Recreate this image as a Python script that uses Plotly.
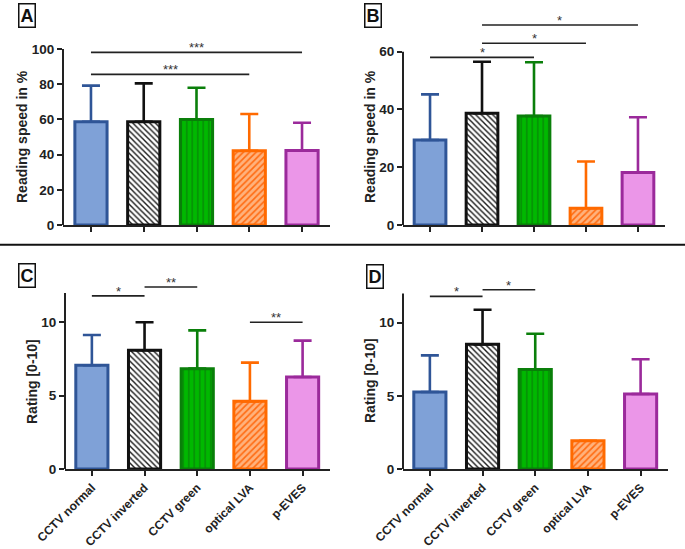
import plotly.graph_objects as go

W, H = 685, 549

categories = ["CCTV normal", "CCTV inverted", "CCTV green", "optical LVA", "p-EVES"]

# Panel A: reading speed (%) – means and SD
speed_a_mean = [58.7, 58.7, 60.0, 42.2, 42.4]
speed_a_sd = [20.5, 21.8, 18.0, 20.9, 15.7]
# Panel B
speed_b_mean = [29.4, 38.7, 37.7, 5.8, 18.2]
speed_b_sd = [15.8, 17.8, 18.6, 16.2, 19.1]
# Panel C: rating
rating_c_mean = [7.07, 8.09, 6.84, 4.61, 6.27]
rating_c_sd = [2.06, 1.91, 2.61, 2.64, 2.48]
# Panel D
rating_d_mean = [5.26, 8.52, 6.81, 1.93, 5.13]
rating_d_sd = [2.51, 2.37, 2.44, 0.0, 2.37]

# significance brackets: (from, to, height, label)
sig_a = [(0, 4, 98.1, "***"), (0, 3, 85.6, "***")]
sig_b = [(0, 2, 58.0, "*"), (1, 3, 62.9, "*"), (1, 4, 69.2, "*")]
sig_c = [(0, 1, 11.8, "*"), (1, 2, 12.4, "**"), (3, 4, 10.0, "**")]
sig_d = [(0, 1, 11.8, "*"), (1, 2, 12.25, "*")]

yticks_a = [0, 20, 40, 60, 80, 100]
yticks_b = [0, 20, 40, 60]
yticks_cd = [0, 5, 10]

styles = [
    dict(fill="#7fa1d7", line="#2f5597", shape="", fg="#7fa1d7", size=8, sol=0.3),
    dict(fill="#ffffff", line="#111111", shape="\\", fg="#1a1a1a", size=4, sol=0.35),
    dict(fill="#00b800", line="#0a7f0a", shape="|", fg="#078a07", size=5.5, sol=0.25),
    dict(fill="#ffb27c", line="#ff6a00", shape="/", fg="#ff6a10", size=4.5, sol=0.35),
    dict(fill="#eb96e8", line="#9b2a9b", shape="", fg="#eb96e8", size=8, sol=0.3),
]

FONT = "Arial, Liberation Sans, sans-serif"

def px2x(p):
    return p / W

def px2y(p):
    return 1 - p / H

panels = [
    dict(name="A", means=speed_a_mean, sds=speed_a_sd, sig=sig_a, yt=yticks_a,
         x0=63, x1=330, yb=225, ytp=8, ymax=123.3, axtop=100, xr=(-0.53, 4.53),
         title="Reading speed in %", tx=22, ty=137, labels=False,
         box=(26.5, 15.5)),
    dict(name="B", means=speed_b_mean, sds=speed_b_sd, sig=sig_b, yt=yticks_b,
         x0=403, x1=665, yb=225, ytp=8, ymax=75.1, axtop=60, xr=(-0.52, 4.52),
         title="Reading speed in %", tx=370, ty=137, labels=False,
         box=(373, 15.5)),
    dict(name="C", means=rating_c_mean, sds=rating_c_sd, sig=sig_c, yt=yticks_cd,
         x0=65, x1=330, yb=469, ytp=268, ymax=13.7, axtop=12, xr=(-0.51, 4.52),
         title="Rating [0-10]", tx=32, ty=381, labels=True,
         box=(27, 275)),
    dict(name="D", means=rating_d_mean, sds=rating_d_sd, sig=sig_d, yt=yticks_cd,
         x0=403, x1=668, yb=469, ytp=268, ymax=13.74, axtop=12, xr=(-0.51, 4.52),
         title="Rating [0-10]", tx=370, ty=381, labels=True,
         box=(375, 276.5)),
]

fig = go.Figure()
shapes = []
annotations = []
layout_axes = {}

for k, p in enumerate(panels):
    idx = "" if k == 0 else str(k + 1)
    xa, ya = "x" + idx, "y" + idx
    for i, cat in enumerate(categories):
        s = styles[i]
        fig.add_trace(go.Bar(
            x=[i], y=[p["means"][i]], width=0.61,
            xaxis=xa, yaxis=ya, showlegend=False, name=cat,
            marker=dict(
                color=s["fill"],
                line=dict(color=s["line"], width=3),
                pattern=dict(shape=s["shape"], bgcolor=s["fill"], fgcolor=s["fg"],
                             size=s["size"], solidity=s["sol"], fillmode="replace"),
            ),
            error_y=dict(type="data", array=[p["sds"][i]], arrayminus=[0],
                         symmetric=False, color=s["line"], thickness=2.6, width=9),
        ))
    layout_axes["xaxis" + idx] = dict(
        domain=[px2x(p["x0"]), px2x(p["x1"])], anchor=ya, range=list(p["xr"]),
        tickmode="array", tickvals=list(range(len(categories))), ticktext=categories,
        showticklabels=p["labels"], tickangle=-45, ticks="outside", ticklen=5,
        tickwidth=2, tickcolor="#222", showline=True, linewidth=2, linecolor="#222",
        showgrid=False, zeroline=False, automargin=False,
        tickfont=dict(family=FONT, size=12, color="#222", weight="bold"),
    )
    layout_axes["yaxis" + idx] = dict(
        domain=[px2y(p["yb"]), px2y(p["ytp"])], anchor=xa, range=[0, p["ymax"]],
        tickmode="array", tickvals=p["yt"], ticks="outside", ticklen=5, tickwidth=2,
        tickcolor="#222", showline=False, showgrid=False, zeroline=False,
        automargin=False,
        tickfont=dict(family=FONT, size=13.5, color="#222", weight="bold"),
    )
    shapes.append(dict(type="line", xref="paper", yref=ya,
                       x0=px2x(p["x0"]), x1=px2x(p["x0"]), y0=0, y1=p["axtop"],
                       line=dict(color="#222", width=2)))
    for (a, b, h, lab) in p["sig"]:
        shapes.append(dict(type="line", xref=xa, yref=ya, x0=a, x1=b, y0=h, y1=h,
                           line=dict(color="#222", width=1.6)))
        annotations.append(dict(xref=xa, yref=ya, x=(a + b) / 2, y=h, text=lab,
                                showarrow=False, yanchor="bottom", yshift=-5,
                                font=dict(family=FONT, size=13, color="#333")))
    annotations.append(dict(xref="paper", yref="paper", x=px2x(p["tx"]), y=px2y(p["ty"]),
                            text="<b>" + p["title"] + "</b>", textangle=-90,
                            showarrow=False, xanchor="center", yanchor="middle",
                            font=dict(family=FONT, size=14, color="#222")))
    annotations.append(dict(xref="paper", yref="paper", x=px2x(p["box"][0]), y=px2y(p["box"][1]),
                            text="<b>" + p["name"] + "</b>", showarrow=False,
                            xanchor="center", yanchor="middle",
                            bordercolor="#111", borderwidth=1.5, borderpad=1,
                            font=dict(family=FONT, size=18, color="#111")))

shapes.append(dict(type="line", xref="paper", yref="paper", x0=0, x1=1,
                   y0=px2y(244.7), y1=px2y(244.7), line=dict(color="#111", width=2)))

fig.update_layout(
    width=W, height=H, margin=dict(l=0, r=0, t=0, b=0, autoexpand=False),
    paper_bgcolor="white", plot_bgcolor="white",
    barmode="overlay", shapes=shapes, annotations=annotations,
    font=dict(family=FONT), **layout_axes,
)

fig.write_html("out.html", config={"displayModeBar": False},
               post_script="document.body.style.margin='0';document.body.style.padding='0';")
